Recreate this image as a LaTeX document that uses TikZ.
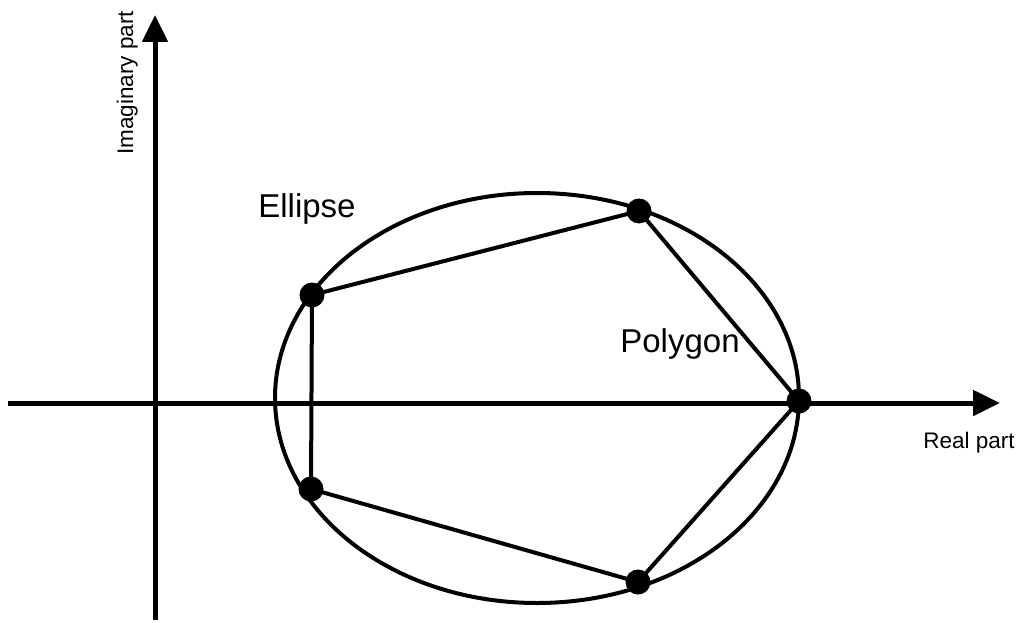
\documentclass[tikz,border=0pt]{standalone}
\usepackage{fontspec}
\setmainfont{Liberation Sans}
\usetikzlibrary{arrows.meta}
\begin{document}
\begin{tikzpicture}[x=1pt,y=-1pt,
  axis/.style={line width=5pt,-{Triangle[length=27pt,width=25pt]}},
  curve/.style={line width=4pt},
  poly/.style={line width=4pt,line join=round},
  vertex/.style={circle,fill=black,inner sep=0pt,minimum size=25pt},
  smalllabel/.style={font=\fontsize{22.5}{27}\selectfont,inner sep=0pt},
  biglabel/.style={font=\fontsize{33}{40}\selectfont,inner sep=0pt}]
\useasboundingbox (0,0) rectangle (1019,623);
% axes
\coordinate (xs) at (8,403);
\coordinate (xe) at (1000,403);
\coordinate (ys) at (155,620);
\coordinate (ye) at (155,15);
\draw[axis] (xs) -- (xe);
\draw[axis] (ys) -- (ye);
% ellipse
\coordinate (ec) at (537,398);
\draw[curve] (ec) ellipse [x radius=262, y radius=205];
% polygon vertices
\coordinate (p1) at (312,295);
\coordinate (p2) at (639,211);
\coordinate (p3) at (799,401);
\coordinate (p4) at (638,582);
\coordinate (p5) at (311,489);
\draw[poly] (p1) -- (p2) -- (p3) -- (p4) -- (p5) -- cycle;
\foreach \p in {p1,p2,p3,p4,p5} \node[vertex] (d\p) at (\p) {};
% labels
\node[smalllabel,rotate=90,anchor=base] (ylab) at (133,83) {Imaginary part};
\node[smalllabel,anchor=base] (xlab) at (969,448) {Real part};
\node[biglabel,anchor=base] (elab) at (307,217) {Ellipse};
\node[biglabel,anchor=base] (plab) at (680,352) {Polygon};
\end{tikzpicture}
\end{document}
